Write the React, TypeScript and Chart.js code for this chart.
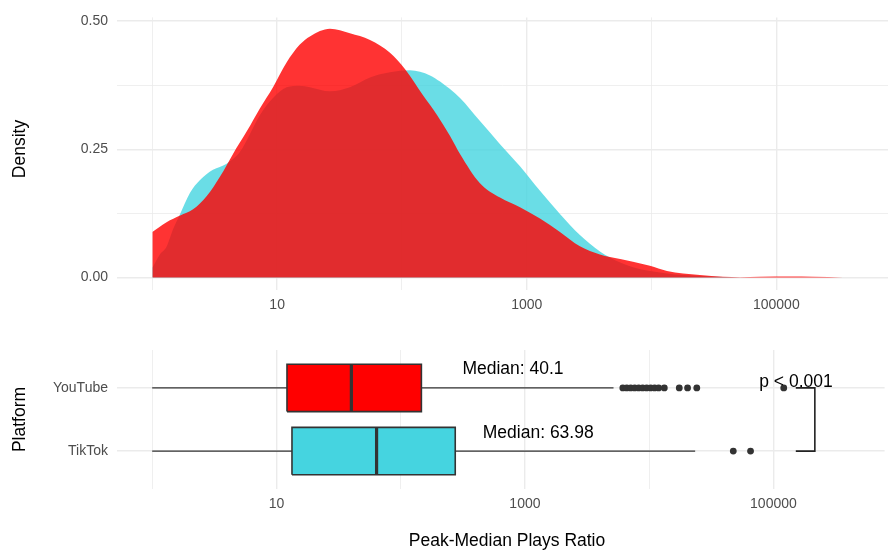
import React, { useEffect, useRef } from 'react';
import { Chart, registerables } from 'chart.js';

Chart.register(...registerables);

const FONT = "'Liberation Sans', Arial, Helvetica, sans-serif";
const GRID = '#EBEBEB';
const TICK_COLOR = '#4D4D4D';
const OUTLINE = '#333333';

// Density of the peak/median plays ratio (log-scaled x), YouTube
const youtubeRatio = [1, 1.3, 1.67, 2.12, 2.73, 3.49, 4.43, 5.71, 7.29, 9.27, 11.9, 15.2, 18.3, 26.5, 38.3, 55.5, 80.2, 106, 147, 191, 243, 292, 422, 611, 883, 1277, 1846, 2668, 3860, 4640, 7100, 9710, 13300, 17900, 24400, 37400, 51200, 74000, 128500, 197000, 342000];
const youtubeDensity = [0.089, 0.108, 0.121, 0.133, 0.159, 0.197, 0.241, 0.285, 0.33, 0.371, 0.419, 0.454, 0.47, 0.485, 0.476, 0.463, 0.438, 0.406, 0.356, 0.317, 0.276, 0.241, 0.184, 0.156, 0.137, 0.115, 0.089, 0.061, 0.045, 0.04, 0.031, 0.023, 0.013, 0.008, 0.005, 0.0015, 0.0006, 0.0015, 0.002, 0.0015, 0];

// Density of the peak/median plays ratio, TikTok
const tiktokRatio = [1, 1.15, 1.3, 1.47, 1.67, 2.0, 2.41, 3.06, 3.94, 5.04, 7.29, 9.27, 11.9, 15.2, 18.3, 26.5, 38.3, 55.5, 80.2, 116, 168, 202, 292, 422, 611, 883, 1277, 1846, 2668, 3860, 4640, 7100, 13300, 24400, 37400, 51200];
const tiktokDensity = [0.019, 0.045, 0.06, 0.095, 0.124, 0.165, 0.19, 0.21, 0.222, 0.245, 0.317, 0.35, 0.371, 0.374, 0.371, 0.363, 0.371, 0.39, 0.4, 0.404, 0.394, 0.382, 0.35, 0.305, 0.26, 0.217, 0.169, 0.124, 0.083, 0.051, 0.039, 0.02, 0.008, 0.003, 0.001, 0];

// Box plot summaries, one entry per platform
const platforms = ['YouTube', 'TikTok'];
const platformLevel = [2, 1];
const platformColors = ['#FF0000', '#45D4E0'];
const whiskerLow = [1, 1];
const quartile1 = [12.16, 13.34];
const medians = [40.1, 63.98];
const quartile3 = [146.8, 274.9];
const whiskerHigh = [5165, 23450];
const youtubeOutliers = [6138, 6607, 7112, 7656, 8241, 8871, 9549, 10280, 11066, 11912, 13240, 17470, 20370, 24170, 121100];
const tiktokOutliers = [47530, 65450];

// Significance bracket between the two platforms
const pValueText = 'p < 0.001';
const bracketRatio = [151400, 215500];
const pValueRatio = 152000;

// Axis ticks
const densityTicks = [0, 0.125, 0.25, 0.375, 0.5];
const densityLabelled = [0, 0.25, 0.5];
const ratioTicks = [1, 10, 100, 1000, 10000, 100000];
const ratioLabelled = [10, 1000, 100000];

const X_MIN = 0.521;
const X_MAX = 785000;
const BOX_HALF = 0.375;
const LABEL_SHIFT = 20;

const tickFont = { family: FONT, size: 14 };

function ratioAxis(labelPad: number, height: number) {
  return {
    type: 'logarithmic',
    min: X_MIN,
    max: X_MAX,
    bounds: 'data',
    afterBuildTicks: (s: any) => {
      s.ticks = ratioTicks.map((v) => ({ value: v }));
    },
    afterFit: (s: any) => {
      s.height = height;
    },
    ticks: {
      autoSkip: false,
      maxRotation: 0,
      padding: labelPad,
      font: tickFont,
      color: TICK_COLOR,
      callback: (v: any) => (ratioLabelled.includes(Number(v)) ? String(v) : ''),
    },
    grid: {
      color: GRID,
      drawTicks: false,
      lineWidth: (c: any) => (c.tick && ratioLabelled.includes(c.tick.value) ? 1.4 : 0.8),
    },
    border: { display: false },
  };
}

function drawText(ctx: CanvasRenderingContext2D, text: string, x: number, y: number, size: number, rotate = false) {
  ctx.save();
  ctx.font = `${size}px ${FONT}`;
  ctx.fillStyle = '#000000';
  ctx.textAlign = 'center';
  ctx.textBaseline = 'middle';
  ctx.translate(x, y);
  if (rotate) ctx.rotate(-Math.PI / 2);
  ctx.fillText(text, 0, 0);
  ctx.restore();
}

const densityTitle = {
  id: 'densityTitle',
  afterDraw(chart: any) {
    drawText(chart.ctx, 'Density', 20, 149, 17.5, true);
  },
};

const boxAnnotations = {
  id: 'boxAnnotations',
  afterDatasetsDraw(chart: any) {
    const { ctx } = chart;
    const x = chart.scales.x;
    const y = chart.scales.y;
    platforms.forEach((_, i) => {
      drawText(
        ctx,
        `Median: ${medians[i]}`,
        x.getPixelForValue(medians[i] * LABEL_SHIFT),
        y.getPixelForValue(platformLevel[i] + 0.29),
        17.5
      );
    });
    drawText(ctx, pValueText, x.getPixelForValue(pValueRatio), y.getPixelForValue(2.09), 17.5);
  },
  afterDraw(chart: any) {
    drawText(chart.ctx, 'Platform', 20, 99.5, 17.5, true);
    drawText(chart.ctx, 'Peak-Median Plays Ratio', 507, 221, 17.5);
  },
};

function densityDataset(label: string, xs: number[], ys: number[], color: string) {
  return {
    label,
    data: xs.map((x, i) => ({ x, y: ys[i] })),
    fill: 'origin',
    backgroundColor: color,
    borderWidth: 0,
    pointRadius: 0,
    cubicInterpolationMode: 'monotone',
  };
}

function boxDatasets() {
  const sets: any[] = [];
  platforms.forEach((name, i) => {
    const v = platformLevel[i];
    const line = { borderColor: OUTLINE, pointRadius: 0, fill: false, tension: 0 };
    sets.push({
      ...line,
      label: `${name} lower whisker`,
      data: [{ x: whiskerLow[i], y: v }, { x: quartile1[i], y: v }],
      borderWidth: 1.4,
      order: 3,
    });
    sets.push({
      ...line,
      label: `${name} upper whisker`,
      data: [{ x: quartile3[i], y: v }, { x: whiskerHigh[i], y: v }],
      borderWidth: 1.4,
      order: 3,
    });
    sets.push({
      ...line,
      label: `${name} box`,
      data: [
        { x: quartile1[i], y: v - BOX_HALF },
        { x: quartile3[i], y: v - BOX_HALF },
        { x: quartile3[i], y: v + BOX_HALF },
        { x: quartile1[i], y: v + BOX_HALF },
        { x: quartile1[i], y: v - BOX_HALF },
      ],
      fill: 'shape',
      backgroundColor: platformColors[i],
      borderWidth: 1.6,
      borderJoinStyle: 'miter',
      order: 2,
    });
    sets.push({
      ...line,
      label: `${name} median`,
      data: [{ x: medians[i], y: v - BOX_HALF }, { x: medians[i], y: v + BOX_HALF }],
      borderWidth: 3.2,
      borderCapStyle: 'butt',
      order: 1,
    });
  });
  const outliers = [youtubeOutliers, tiktokOutliers];
  outliers.forEach((pts, i) => {
    sets.push({
      label: `${platforms[i]} outliers`,
      data: pts.map((x) => ({ x, y: platformLevel[i] })),
      showLine: false,
      pointRadius: 3.4,
      pointHoverRadius: 3.4,
      pointBorderWidth: 0,
      pointBackgroundColor: OUTLINE,
      borderColor: OUTLINE,
      order: 0,
    });
  });
  sets.push({
    label: 'bracket',
    data: [
      { x: bracketRatio[0], y: platformLevel[0] },
      { x: bracketRatio[1], y: platformLevel[0] },
      { x: bracketRatio[1], y: platformLevel[1] },
      { x: bracketRatio[0], y: platformLevel[1] },
    ],
    borderColor: '#222222',
    borderWidth: 1.6,
    pointRadius: 0,
    fill: false,
    tension: 0,
    order: 0,
  });
  return sets;
}

export default function App() {
  const topRef = useRef<HTMLCanvasElement | null>(null);
  const bottomRef = useRef<HTMLCanvasElement | null>(null);

  useEffect(() => {
    const common = {
      responsive: false,
      animation: false,
      events: [],
      plugins: { legend: { display: false }, tooltip: { enabled: false } },
    };

    const top = new Chart(topRef.current as HTMLCanvasElement, {
      type: 'line',
      data: {
        datasets: [
          densityDataset('YouTube', youtubeRatio, youtubeDensity, 'rgba(255, 0, 0, 0.8)'),
          densityDataset('TikTok', tiktokRatio, tiktokDensity, 'rgba(69, 212, 224, 0.8)'),
        ],
      },
      options: {
        ...common,
        layout: { padding: { top: 10, left: 0, right: 0, bottom: 0 } },
        scales: {
          x: ratioAxis(7, 30),
          y: {
            type: 'linear',
            min: -0.0242,
            max: 0.507,
            afterBuildTicks: (s: any) => {
              s.ticks = densityTicks.map((v) => ({ value: v }));
            },
            afterFit: (s: any) => {
              s.width = 117;
            },
            ticks: {
              padding: 9,
              font: tickFont,
              color: TICK_COLOR,
              callback: (v: any) => (densityLabelled.includes(Number(v)) ? Number(v).toFixed(2) : ''),
            },
            grid: {
              color: GRID,
              drawTicks: false,
              lineWidth: (c: any) => (c.tick && densityLabelled.includes(c.tick.value) ? 1.4 : 0.8),
            },
            border: { display: false },
          },
        },
      } as any,
      plugins: [densityTitle],
    });

    const bottom = new Chart(bottomRef.current as HTMLCanvasElement, {
      type: 'line',
      data: { datasets: boxDatasets() },
      options: {
        ...common,
        layout: { padding: { top: 30, left: 0, right: 0, bottom: 0 } },
        scales: {
          x: ratioAxis(7, 67),
          y: {
            type: 'linear',
            min: 0.4,
            max: 2.6,
            afterBuildTicks: (s: any) => {
              s.ticks = platformLevel.map((v) => ({ value: v }));
            },
            afterFit: (s: any) => {
              s.width = 117;
            },
            ticks: {
              padding: 9,
              font: tickFont,
              color: TICK_COLOR,
              callback: (v: any) => platforms[platformLevel.indexOf(Number(v))] ?? '',
            },
            grid: { color: GRID, drawTicks: false, lineWidth: 1.4 },
            border: { display: false },
          },
        },
      } as any,
      plugins: [boxAnnotations],
    });

    return () => {
      top.destroy();
      bottom.destroy();
    };
  }, []);

  return (
    <div style={{ position: 'absolute', left: 0, top: 0, width: 888, height: 556, background: '#ffffff' }}>
      <canvas ref={topRef} width={888} height={320} style={{ position: 'absolute', left: 0, top: 0, width: 888, height: 320 }} />
      <canvas ref={bottomRef} width={888} height={236} style={{ position: 'absolute', left: 0, top: 320, width: 888, height: 236 }} />
    </div>
  );
}
